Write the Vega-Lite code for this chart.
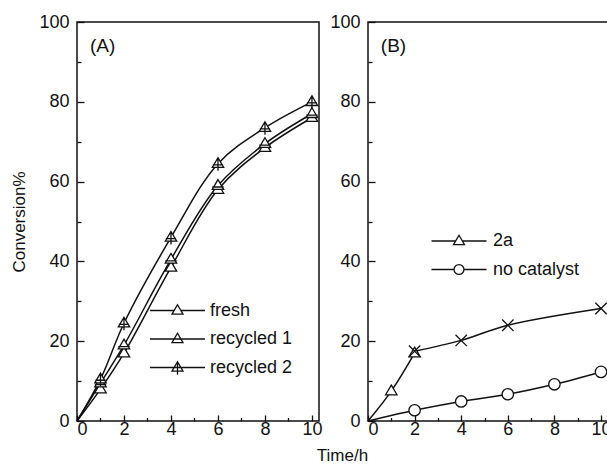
{
  "$schema": "https://vega.github.io/schema/vega-lite/v6.json",
  "padding": {"left": 10, "top": 12, "right": 0, "bottom": 0},
  "spacing": 49,
  "bounds": "flush",
  "config": {
    "font": "Liberation Sans",
    "view": {"stroke": "#111", "strokeWidth": 1.5},
    "axis": {
      "grid": false,
      "domain": false,
      "tickColor": "#111",
      "tickWidth": 1.3,
      "labelColor": "#111",
      "labelFontSize": 18,
      "labelFont": "Liberation Sans",
      "titleColor": "#111",
      "titleFontSize": 17,
      "titleFontWeight": "normal",
      "titleFont": "Liberation Sans"
    },
    "legend": {
      "labelFontSize": 18,
      "labelFont": "Liberation Sans",
      "labelColor": "#111",
      "symbolSize": 121,
      "symbolStrokeWidth": 1.3,
      "symbolStrokeColor": "#111",
      "symbolOpacity": 1,
      "labelOffset": 19.5,
      "rowPadding": 10.5,
      "padding": 0
    }
  },
  "datasets": {
    "a": [
      {"series": "fresh", "t": 0, "c": 0},
      {"series": "fresh", "t": 1, "c": 8},
      {"series": "fresh", "t": 2, "c": 17},
      {"series": "fresh", "t": 4, "c": 38.5},
      {"series": "fresh", "t": 6, "c": 58},
      {"series": "fresh", "t": 8, "c": 68.5},
      {"series": "fresh", "t": 10, "c": 76},
      {"series": "recycled 1", "t": 0, "c": 0},
      {"series": "recycled 1", "t": 1, "c": 9.5},
      {"series": "recycled 1", "t": 2, "c": 19},
      {"series": "recycled 1", "t": 4, "c": 40.5},
      {"series": "recycled 1", "t": 6, "c": 59},
      {"series": "recycled 1", "t": 8, "c": 69.5},
      {"series": "recycled 1", "t": 10, "c": 77},
      {"series": "recycled 2", "t": 0, "c": 0},
      {"series": "recycled 2", "t": 1, "c": 10.5},
      {"series": "recycled 2", "t": 2, "c": 24.5},
      {"series": "recycled 2", "t": 4, "c": 46},
      {"series": "recycled 2", "t": 6, "c": 64.5},
      {"series": "recycled 2", "t": 8, "c": 73.5},
      {"series": "recycled 2", "t": 10, "c": 80}
    ],
    "b": [
      {"series": "2a", "t": 0, "c": 0},
      {"series": "2a", "t": 1, "c": 7.5},
      {"series": "2a", "t": 2, "c": 17},
      {"series": "2a-x", "t": 2, "c": 17.5},
      {"series": "2a-x", "t": 4, "c": 20.2},
      {"series": "2a-x", "t": 6, "c": 24},
      {"series": "2a-x", "t": 10, "c": 28.2},
      {"series": "no catalyst", "t": 0, "c": 0},
      {"series": "no catalyst", "t": 2, "c": 2.7},
      {"series": "no catalyst", "t": 4, "c": 4.9},
      {"series": "no catalyst", "t": 6, "c": 6.7},
      {"series": "no catalyst", "t": 8, "c": 9.2},
      {"series": "no catalyst", "t": 10, "c": 12.3}
    ]
  },
  "hconcat": [
    {
      "width": 242,
      "height": 399,
      "resolve": {"scale": {"shape": "independent"}, "legend": {"shape": "independent"}},
      "encoding": {
        "x": {"field": "t", "type": "quantitative", "scale": {"domain": [0, 10.3], "nice": false},
          "axis": {"title": null, "values": [0,1,2,3,4,5,6,7,8,9,10], "labelExpr": "datum.value % 2 === 0 ? datum.label : ''",
            "tickSize": {"condition": {"test": "datum.value % 2 === 0", "value": -6}, "value": -3.5}, "labelPadding": 5}},
        "y": {"field": "c", "type": "quantitative", "scale": {"domain": [0, 100], "nice": false},
          "axis": {"title": "Conversion%", "values": [0,10,20,30,40,50,60,70,80,90,100], "labelExpr": "datum.value % 20 === 0 ? datum.label : ''",
            "tickSize": {"condition": {"test": "datum.value % 20 === 0", "value": -7}, "value": -4}, "labelPadding": 15, "titlePadding": 10}}
      },
      "layer": [
        {
          "data": {"name": "a"},
          "mark": {"type": "line", "color": "#111", "strokeWidth": 1.5, "interpolate": "catmull-rom"},
          "encoding": {"detail": {"field": "series"}}
        },
        {
          "data": {"name": "a"},
          "transform": [{"filter": "datum.t > 0"}],
          "mark": {"type": "point", "filled": true, "fill": "white", "stroke": "#111", "strokeWidth": 1.3, "size": 130, "opacity": 1},
          "encoding": {"shape": {"field": "series", "legend": null,
            "scale": {"domain": ["fresh", "recycled 1", "recycled 2"],
              "range": ["M0,-1.05L1,0.65L-1,0.65Z", "M0,-1.05L1,0.65L-1,0.65ZM-1,0.25L1,0.25", "M0,-1.05L1,0.65L-1,0.65ZM0,-1.05L0,1.25M-0.9,0.2L0.9,0.2"]}}}
        },
        {
          "data": {"name": "a"},
          "transform": [{"filter": "false"}],
          "mark": {"type": "point", "filled": false, "color": "#111", "strokeWidth": 1.3},
          "encoding": {"shape": {"field": "series",
            "scale": {"domain": ["fresh", "recycled 1", "recycled 2"],
              "range": ["M-5,0L-0.62,0M0.62,0L5,0M0,-1.05L1,0.65L-1,0.65Z", "M-5,0L5,0M0,-1.05L1,0.65L-1,0.65Z", "M-5,0L5,0M0,-1.05L1,0.65L-1,0.65ZM0,-1.05L0,1.3"]},
            "legend": {"title": null, "orient": "none", "legendX": 91.5, "legendY": 279.5, "labelOffset": 23.5}}}
        },
        {
          "data": {"values": [{"label": "(A)", "t": 0.55, "c": 93.9}]},
          "mark": {"type": "text", "align": "left", "baseline": "middle", "fontSize": 19, "color": "#111"},
          "encoding": {"text": {"field": "label"}}
        }
      ]
    },
    {
      "width": 240,
      "height": 399,
      "resolve": {"scale": {"shape": "independent"}, "legend": {"shape": "independent"}},
      "encoding": {
        "x": {"field": "t", "type": "quantitative", "scale": {"domain": [0, 10.3], "nice": false},
          "axis": {"title": "Time/h", "titleX": -26, "titlePadding": 9, "values": [0,1,2,3,4,5,6,7,8,9,10], "labelExpr": "datum.value % 2 === 0 ? datum.label : ''",
            "tickSize": {"condition": {"test": "datum.value % 2 === 0", "value": -6}, "value": -3.5}, "labelPadding": 5}},
        "y": {"field": "c", "type": "quantitative", "scale": {"domain": [0, 100], "nice": false},
          "axis": {"title": null, "values": [0,10,20,30,40,50,60,70,80,90,100], "labelExpr": "datum.value % 20 === 0 ? datum.label : ''",
            "tickSize": {"condition": {"test": "datum.value % 20 === 0", "value": -7}, "value": -4}, "labelPadding": 15}}
      },
      "layer": [
        {
          "data": {"name": "b"},
          "mark": {"type": "line", "color": "#111", "strokeWidth": 1.5, "interpolate": "catmull-rom"},
          "encoding": {"detail": {"field": "series"}}
        },
        {
          "data": {"name": "b"},
          "transform": [{"filter": "datum.t > 0"}],
          "mark": {"type": "point", "filled": true, "fill": "white", "stroke": "#111", "strokeWidth": 1.3, "size": 130, "opacity": 1},
          "encoding": {"shape": {"field": "series", "legend": null,
            "scale": {"domain": ["2a", "2a-x", "no catalyst"],
              "range": ["M0,-1.05L1,0.65L-1,0.65Z", "M-1,-1L1,1M-1,1L1,-1", "M1,0A1,1,0,1,1,-1,0A1,1,0,1,1,1,0Z"]}}}
        },
        {
          "data": {"name": "b"},
          "transform": [{"filter": "false"}],
          "mark": {"type": "point", "filled": false, "color": "#111", "strokeWidth": 1.3},
          "encoding": {"shape": {"field": "series",
            "scale": {"domain": ["2a", "no catalyst"],
              "range": ["M-5,0L-0.62,0M0.62,0L5,0M0,-1.05L1,0.65L-1,0.65Z", "M-5,0L-0.9,0M0.9,0L5,0M0.9,0A0.9,0.9,0,1,1,-0.9,0A0.9,0.9,0,1,1,0.9,0Z"]},
            "legend": {"title": null, "orient": "none", "legendX": 82, "legendY": 210, "labelOffset": 25}}}
        },
        {
          "data": {"values": [{"label": "(B)", "t": 0.55, "c": 93.9}]},
          "mark": {"type": "text", "align": "left", "baseline": "middle", "fontSize": 19, "color": "#111"},
          "encoding": {"text": {"field": "label"}}
        }
      ]
    }
  ]
}
